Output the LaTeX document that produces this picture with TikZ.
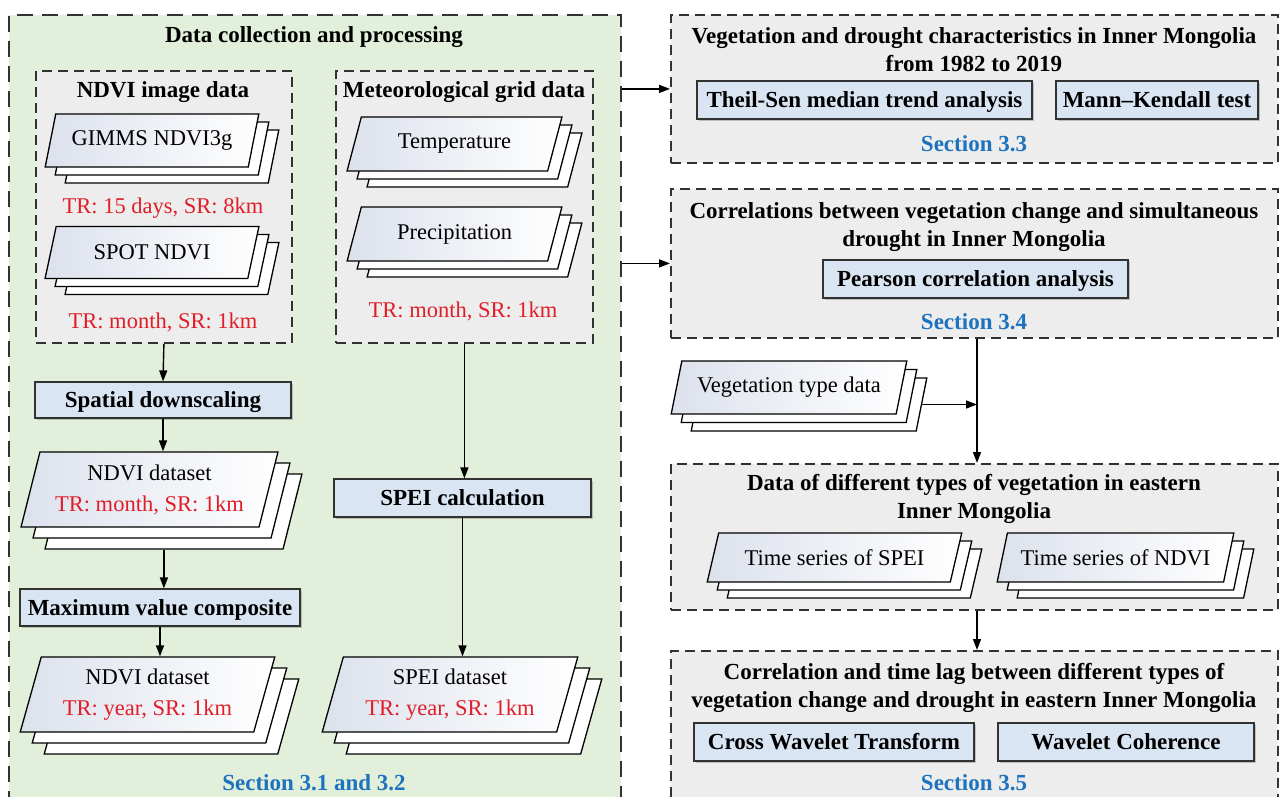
\documentclass[tikz,border=0pt]{standalone}
\usepackage{fontspec}
\setmainfont{Liberation Serif}
\usetikzlibrary{shapes.geometric,shadows,arrows.meta}
\definecolor{greenbg}{RGB}{226,239,218}
\definecolor{graybg}{RGB}{237,237,237}
\definecolor{bluebg}{RGB}{218,229,243}
\definecolor{edgecol}{RGB}{50,50,50}
\definecolor{redtxt}{RGB}{225,30,40}
\definecolor{secblue}{RGB}{30,115,190}
\definecolor{shadetop}{RGB}{220,225,236}
\newcommand{\fsreg}{\fontsize{22.5}{28}\selectfont}
\newcommand{\fsbold}{\fontsize{23}{28}\selectfont\bfseries}
\tikzset{
  dashframe/.style={rectangle, draw=edgecol, inner sep=0pt, anchor=north west},
  greenframe/.style={dashframe, line width=1.6pt, dash pattern=on 16pt off 9pt, fill=greenbg},
  grayframe/.style={dashframe, line width=1.8pt, dash pattern=on 10pt off 6pt, fill=graybg},
  procbox/.style={rectangle, draw=edgecol, line width=1.2pt, fill=bluebg, inner sep=0pt, font=\fsbold, text height=15pt, text depth=0pt,
    drop shadow={shadow xshift=2pt, shadow yshift=-2pt, fill=black, opacity=0.2}},
  para/.style n args={2}{trapezium, trapezium stretches=true, trapezium left angle=#1, trapezium right angle=#2,
    draw=black, line width=1.3pt, left color=shadetop, right color=white, inner sep=0pt, font=\fsreg, align=center},
  paperstack/.style n args={2}{
    general shadow={shadow scale=1, shadow xshift=2*#1, shadow yshift=-2*#2, shade=false, fill=white, draw=black, line width=1.3pt},
    general shadow={shadow scale=1, shadow xshift=#1, shadow yshift=-#2, shade=false, fill=white, draw=black, line width=1.3pt}},
  title/.style={font=\fsbold, align=center, anchor=base, inner sep=0pt},
  plain/.style={font=\fsreg, align=center, anchor=base, inner sep=0pt},
  redlabel/.style={plain, text=redtxt},
  seclabel/.style={title, text=secblue},
  arrow/.style={draw=black, line width=1.4pt, -{Triangle[length=11pt,width=8pt]}},
}
\begin{document}
\begin{tikzpicture}[x=1pt,y=-1pt]
\useasboundingbox (0,0) rectangle (1280,796);
\clip (0,0) rectangle (1280,796);
% frames
\node[greenframe, minimum width=612pt, minimum height=800pt] (collect) at (8,14) {};
\node[grayframe, minimum width=256pt, minimum height=272pt] (ndviimg) at (35,70) {};
\node[grayframe, minimum width=257pt, minimum height=272pt] (metgrid) at (335,70) {};
\node[grayframe, minimum width=607pt, minimum height=148pt] (trend) at (670,14) {};
\node[grayframe, minimum width=607pt, minimum height=149pt] (corr) at (670,188) {};
\node[grayframe, minimum width=607pt, minimum height=146pt] (typedata) at (670,463) {};
\node[grayframe, minimum width=607pt, minimum height=170pt] (lag) at (670,650) {};
% titles
\node[title] (t0) at (314,42) {Data collection and processing};
\node[title] (t1) at (163,97) {NDVI image data};
\node[title] (t2) at (464,97) {Meteorological grid data};
\node[title] (t3) at (974,71) {Vegetation and drought characteristics in Inner Mongolia\\from 1982 to 2019};
\node[title] (t4) at (974,246) {Correlations between vegetation change and simultaneous\\drought in Inner Mongolia};
\node[title] (t5) at (974,518) {Data of different types of vegetation in eastern\\Inner Mongolia};
\node[title] (t6) at (974,707) {Correlation and time lag between different types of\\vegetation change and drought in eastern Inner Mongolia};
% sections
\node[seclabel] (s1) at (314,790) {Section 3.1 and 3.2};
\node[seclabel] (s2) at (974,151) {Section 3.3};
\node[seclabel] (s3) at (974,329) {Section 3.4};
\node[seclabel] (s4) at (974,790) {Section 3.5};
% data stacks
\node[para={66}{114}, paperstack={10pt}{8pt}, minimum width=214pt, minimum height=53pt] (gimms) at (152,140.5) {GIMMS NDVI3g};
\node[para={66}{114}, paperstack={10pt}{8pt}, minimum width=214pt, minimum height=52pt] (spot) at (152,252.5) {SPOT NDVI};
\node[para={66}{114}, paperstack={10pt}{8pt}, minimum width=215pt, minimum height=54pt] (temp) at (454.5,144) {Temperature};
\node[para={66}{114}, paperstack={10pt}{8pt}, minimum width=215pt, minimum height=54pt] (precip) at (454.5,234) {Precipitation};
\node[para={66}{114}, paperstack={10pt}{8.5pt}, minimum width=236pt, minimum height=53pt] (veg) at (789,387.5) {Vegetation type data};
\node[para={72}{108}, paperstack={12pt}{11pt}, minimum width=257pt, minimum height=75pt] (ndvim) at (149.5,489.5) {NDVI dataset\\[3pt]\textcolor{redtxt}{TR: month, SR: 1km}};
\node[para={72}{108}, paperstack={12pt}{11pt}, minimum width=255pt, minimum height=75pt] (ndviy) at (147.5,694.5) {NDVI dataset\\[3pt]\textcolor{redtxt}{TR: year, SR: 1km}};
\node[para={72}{108}, paperstack={12pt}{11pt}, minimum width=256pt, minimum height=75pt] (speid) at (450,694.5) {SPEI dataset\\[3pt]\textcolor{redtxt}{TR: year, SR: 1km}};
\node[para={61}{119}, paperstack={10pt}{8pt}, minimum width=255pt, minimum height=49pt] (tsspei) at (834.5,557.5) {Time series of SPEI};
\node[para={61}{119}, paperstack={10pt}{8pt}, minimum width=237pt, minimum height=49pt] (tsndvi) at (1115.5,557.5) {Time series of NDVI};
% red labels
\node[redlabel] (r1) at (163,213) {TR: 15 days, SR: 8km};
\node[redlabel] (r2) at (163,328) {TR: month, SR: 1km};
\node[redlabel] (r3) at (463,317) {TR: month, SR: 1km};
% process boxes
\node[procbox, minimum width=256pt, minimum height=36pt] (down) at (163,400) {Spatial downscaling};
\node[procbox, minimum width=280pt, minimum height=37pt] (mvc) at (160,607.5) {Maximum value composite};
\node[procbox, minimum width=257pt, minimum height=38pt] (speicalc) at (462.5,498) {SPEI calculation};
\node[procbox, minimum width=335pt, minimum height=38pt] (theil) at (864.5,100) {Theil-Sen median trend analysis};
\node[procbox, minimum width=202pt, minimum height=38pt] (mk) at (1157,100) {Mann–Kendall test};
\node[procbox, minimum width=305pt, minimum height=38pt] (pearson) at (975.5,279) {Pearson correlation analysis};
\node[procbox, minimum width=280pt, minimum height=38pt] (xwt) at (834,742) {Cross Wavelet Transform};
\node[procbox, minimum width=256pt, minimum height=38pt] (wtc) at (1126,742) {Wavelet Coherence};
% connectors
\coordinate (vline) at (977,0);
\coordinate (ndvimout) at ([xshift=24pt,yshift=-22pt]ndvim.bottom side);
\coordinate (vegout) at ([xshift=20pt,yshift=-17pt]veg.right side);
\draw[arrow] (ndviimg.south) -- (down.north);
\draw[arrow] (down.south) -- (down.south |- ndvim.top side);
\draw[arrow] (ndvimout) -- (ndvimout |- mvc.north);
\draw[arrow] (mvc.south) -- (mvc.south |- ndviy.top side);
\draw[arrow] (metgrid.south) -- (metgrid.south |- speicalc.north);
\draw[arrow] (speicalc.south) -- (speicalc.south |- speid.top side);
\draw[arrow] (collect.east |- trend.west) -- (trend.west);
\draw[arrow] (collect.east |- corr.west) -- (corr.west);
\draw[arrow] (corr.south -| vline) -- (typedata.north -| vline);
\draw[arrow] (vegout) -- (vegout -| vline);
\draw[arrow] (typedata.south -| vline) -- (lag.north -| vline);
\end{tikzpicture}
\end{document}
